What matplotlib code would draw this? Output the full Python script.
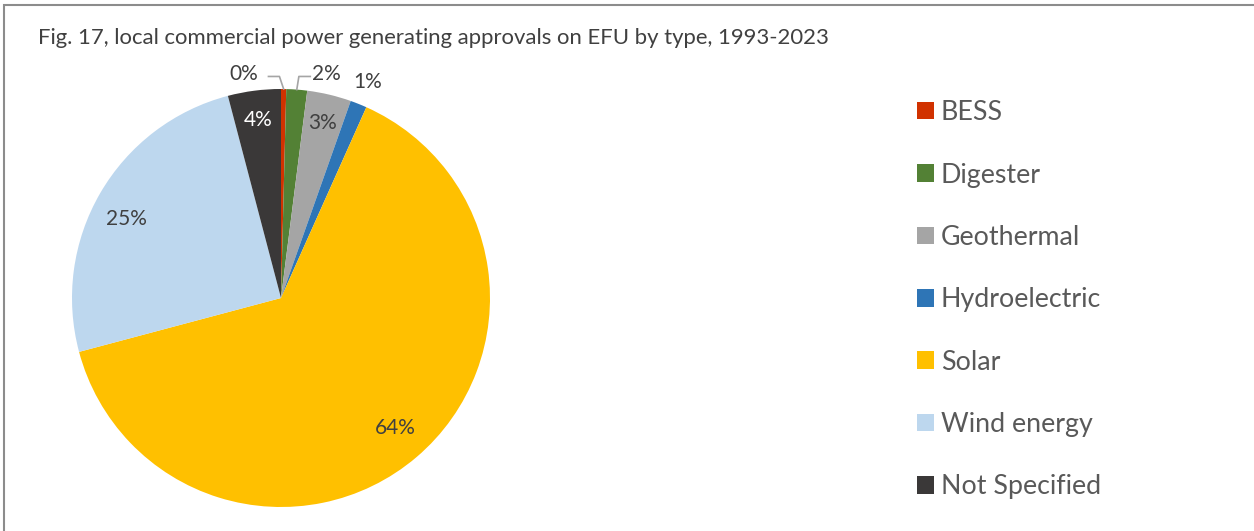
import numpy as np
import matplotlib
matplotlib.use("Agg")
import matplotlib.pyplot as plt
from matplotlib.patches import Rectangle, Patch

categories = ["BESS", "Digester", "Geothermal", "Hydroelectric", "Solar", "Wind energy", "Not Specified"]
counts = [1, 4, 8.5, 3.2, 160, 62.5, 10.2]
colors = ["#D13200", "#538135", "#A5A5A5", "#2E75B6", "#FFC000", "#BDD7EE", "#3A3838"]
title = "Fig. 17, local commercial power generating approvals on EFU by type, 1993-2023"

W, H = 1254, 531
fig = plt.figure(figsize=(W / 100, H / 100), dpi=100)
fig.patch.set_facecolor("white")
FONT = ["Lato", "DejaVu Sans"]

# frame
fig.patches.append(Rectangle((4 / W, -0.1), 1.2, (H - 5) / H + 0.1, transform=fig.transFigure,
                             fill=False, edgecolor="#8C8C8C", linewidth=1.5))

cx, cy, R = 281, H - 298, 209
ax = fig.add_axes([(cx - R) / W, (cy - R) / H, 2 * R / W, 2 * R / H])

wedges, _ = ax.pie(counts, colors=colors, startangle=90, counterclock=False, radius=1,
                   wedgeprops=dict(linewidth=0))
ax.set_xlim(-1, 1)
ax.set_ylim(-1, 1)
ax.set_aspect("equal")
ax.axis("off")

total = sum(counts)
txtcol = "#404040"
PS = 15
for i, w in enumerate(wedges):
    pct = counts[i] / total * 100
    lab = f"{pct:.0f}%"
    mid = np.deg2rad((w.theta1 + w.theta2) / 2)
    if pct >= 2.5:
        r = 0.86 if pct < 10 else 0.83
        if categories[i] == "Wind energy":
            mid += np.deg2rad(3)
        if categories[i] == "Solar":
            mid += np.deg2rad(1)
        col = "white" if categories[i] == "Not Specified" else txtcol
        ax.text(r * np.cos(mid), r * np.sin(mid), lab, ha="center", va="center",
                fontsize=PS, color=col, family=FONT)
    else:
        ex, ey = np.cos(mid), np.sin(mid)
        if categories[i] == "BESS":
            tx, ty = -0.18, 1.06
            ax.plot([ex, ex - 0.02, -0.06], [ey, ty, ty], color="#A5A5A5", lw=1.2, clip_on=False)
            ax.text(tx, ty + 0.01, lab, ha="center", va="center", fontsize=PS, color=txtcol, family=FONT)
        elif categories[i] == "Digester":
            tx, ty = 0.215, 1.06
            ax.plot([ex, ex + 0.01, 0.14], [ey, ty, ty], color="#A5A5A5", lw=1.2, clip_on=False)
            ax.text(tx, ty + 0.01, lab, ha="center", va="center", fontsize=PS, color=txtcol, family=FONT)
        else:
            r = 1.115
            ax.text(r * ex, r * ey, lab, ha="center", va="center", fontsize=PS, color=txtcol, family=FONT)

fig.text(38 / W, 1 - 38 / H, title, ha="left", va="center", fontsize=15.9, color="#404040", family=FONT)

handles = [Patch(facecolor=c, edgecolor="none") for c in colors]
leg = fig.legend(handles, categories, loc="upper left", bbox_to_anchor=(893 / W, 1 - 76 / H),
                 frameon=False, prop=dict(family=FONT, size=19.3), labelcolor="#595959",
                 handlelength=0.63, handleheight=0.63, handletextpad=0.26, labelspacing=1.395)

fig.savefig("out.png", dpi=100)
